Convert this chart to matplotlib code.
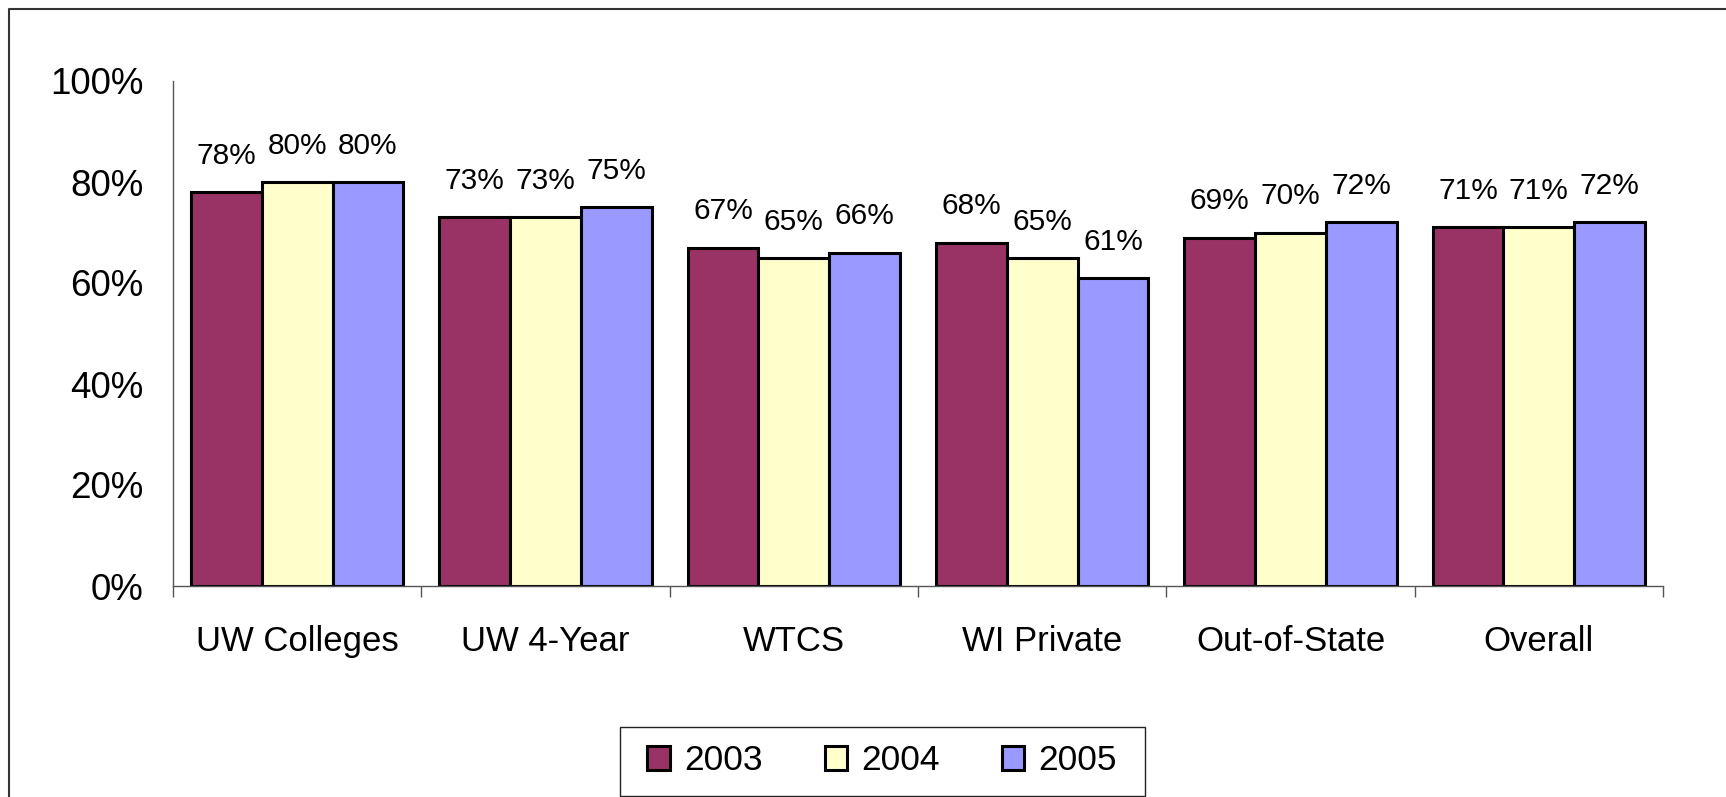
import numpy as np
import matplotlib
matplotlib.use("Agg")
import matplotlib.pyplot as plt
from matplotlib.lines import Line2D
from matplotlib.patches import Rectangle
from matplotlib.ticker import PercentFormatter, FixedLocator

plt.rcParams['font.family'] = ['Liberation Sans', 'DejaVu Sans']

# data
categories = ["UW Colleges", "UW 4-Year", "WTCS", "WI Private", "Out-of-State", "Overall"]
years = ["2003", "2004", "2005"]
rate_2003 = [78, 73, 67, 68, 69, 71]
rate_2004 = [80, 73, 65, 65, 70, 71]
rate_2005 = [80, 75, 66, 61, 72, 72]
colors = ["#993366", "#FFFFCC", "#9999FF"]

fig = plt.figure(figsize=(17.26, 7.97), dpi=100)
ax = fig.add_axes([173 / 1726, 1 - 586 / 797, 1490 / 1726, 505 / 797])

x = np.arange(len(categories))
width = 0.285
series = [rate_2003, rate_2004, rate_2005]
for i, (vals, yr, col) in enumerate(zip(series, years, colors)):
    bars = ax.bar(x + (i - 1) * width + 0.5, np.array(vals) / 100, width,
                  color=col, edgecolor="black", linewidth=2.2, label=yr)
    ax.bar_label(bars, labels=[f"{v}%" for v in vals], padding=16, fontsize=21.5)

ax.set_xlim(0, len(categories))
ax.set_ylim(0, 1)
ax.yaxis.set_major_locator(FixedLocator([0, 0.2, 0.4, 0.6, 0.8, 1.0]))
ax.yaxis.set_major_formatter(PercentFormatter(1.0, decimals=0))
ax.tick_params(axis="y", length=0, pad=21, labelsize=26.5)

ax.set_xticks(np.arange(len(categories) + 1))
ax.set_xticklabels([])
ax.set_xticks(x + 0.5, minor=True)
ax.set_xticklabels(categories, minor=True, fontsize=25)
ax.tick_params(axis="x", which="major", length=8, width=1, color="#555555", direction="out")
ax.tick_params(axis="x", which="minor", length=0, pad=28)

for s in ["top", "right"]:
    ax.spines[s].set_visible(False)
for s in ["left", "bottom"]:
    ax.spines[s].set_color("#555555")
    ax.spines[s].set_linewidth(1)

leg = fig.legend(loc="center", bbox_to_anchor=(882 / 1726, 1 - 761 / 797), ncol=3,
                 fontsize=25.5, frameon=False,
                 handlelength=0.63, handleheight=0.63, handletextpad=0.4,
                 columnspacing=1.75, borderpad=0.35)
for h in leg.legend_handles:
    h.set_linewidth(2.2)

# legend box
fig.add_artist(Rectangle((620 / 1726, 1 - 796 / 797), 525 / 1726, 69 / 797,
                         transform=fig.transFigure, fill=False,
                         edgecolor="#222222", linewidth=1))

# outer chart border (left and top only visible)
fig.add_artist(Line2D([9 / 1726, 9 / 1726, 1.0], [0.0, 1 - 9 / 797, 1 - 9 / 797],
                      transform=fig.transFigure, color="#333333", linewidth=1.5))

fig.savefig("out.png", dpi=100)
